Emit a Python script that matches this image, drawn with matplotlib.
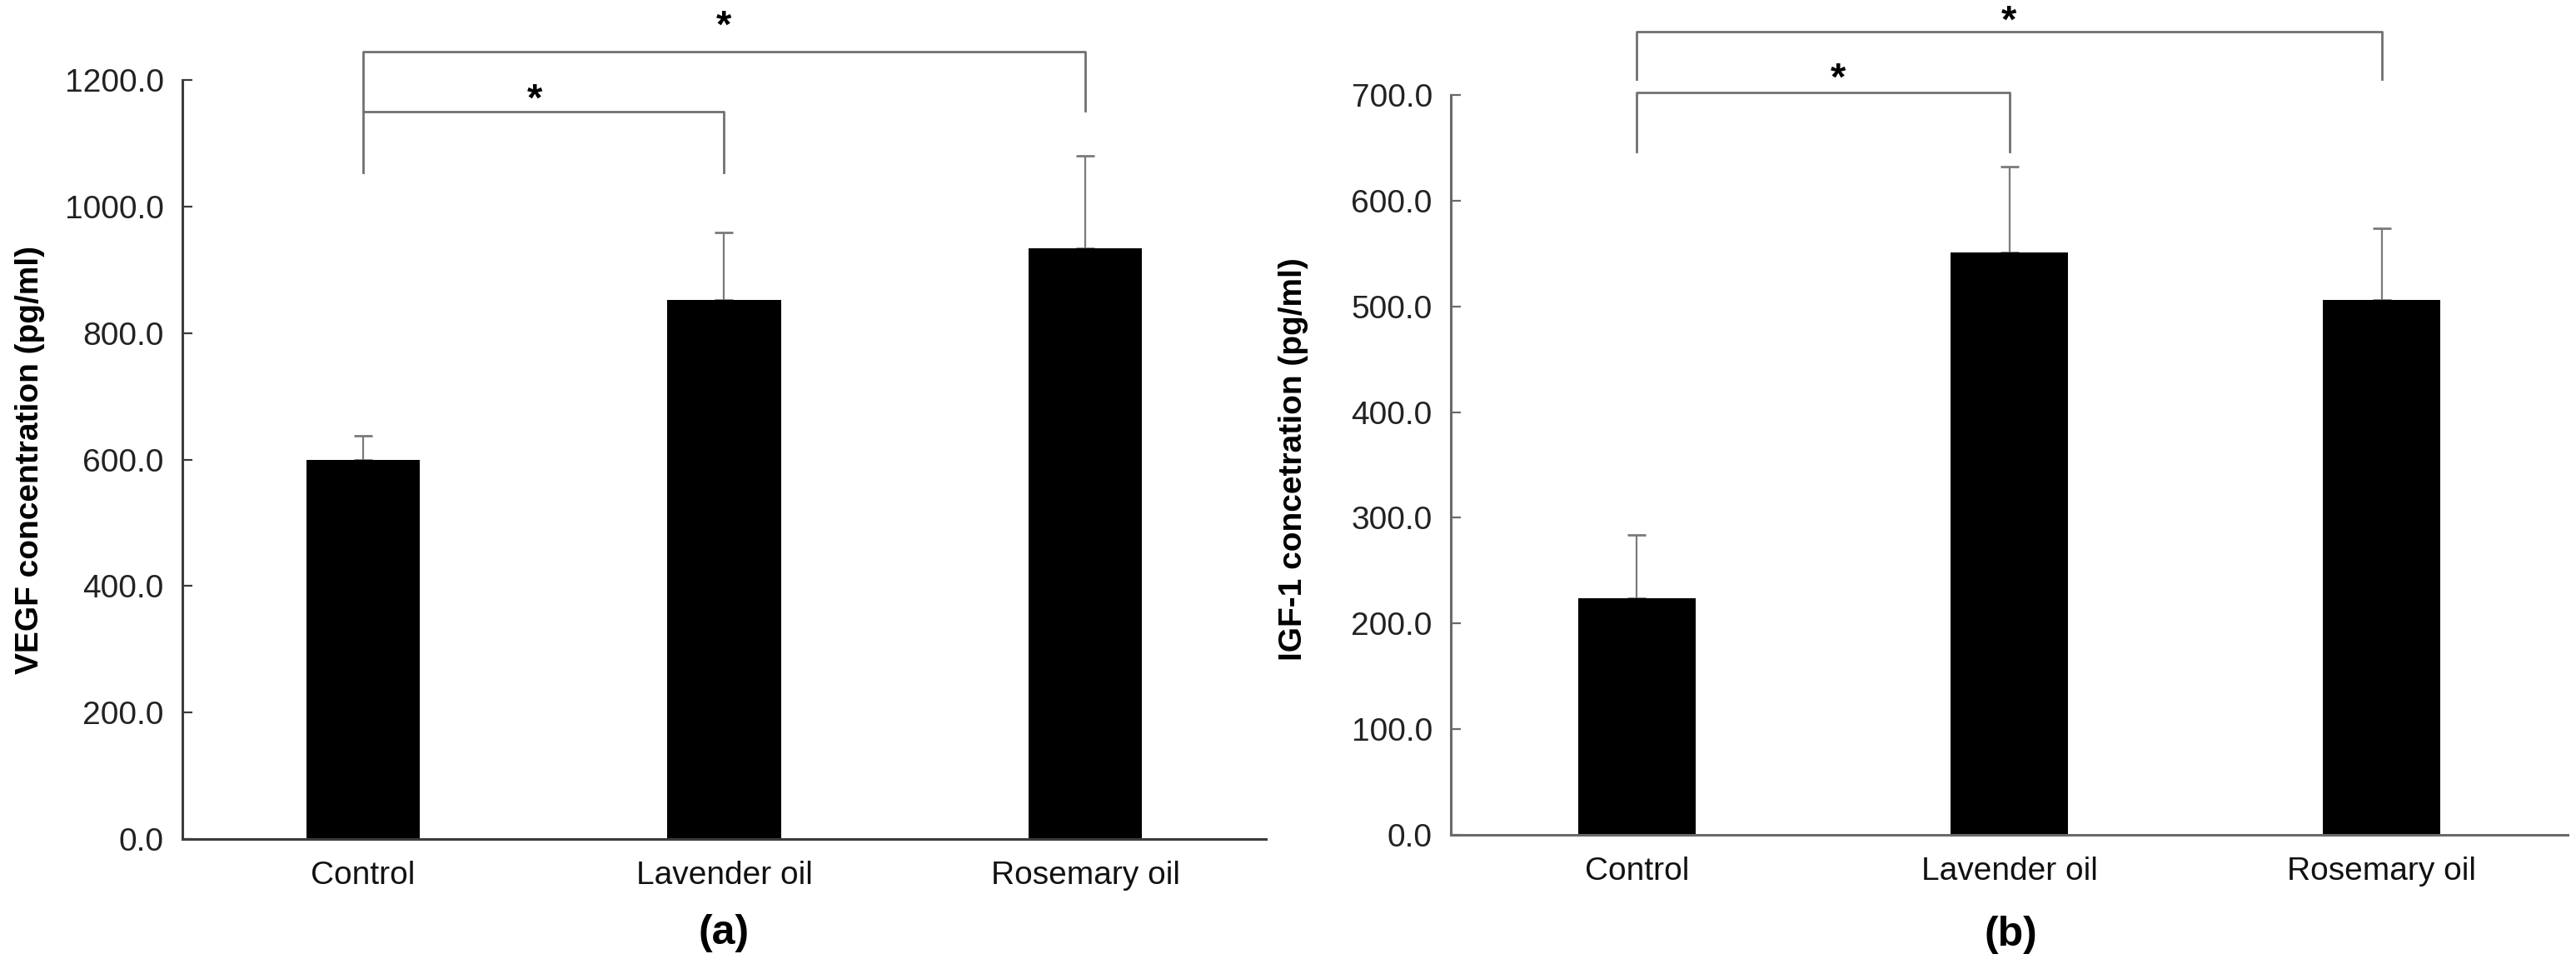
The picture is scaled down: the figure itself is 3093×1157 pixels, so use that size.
import matplotlib.pyplot as plt
import numpy as np

plt.rcParams['font.family'] = ['Liberation Sans', 'DejaVu Sans']

groups = ["Control", "Lavender oil", "Rosemary oil"]

vegf_mean = [599, 852, 934]
vegf_err = [38, 107, 146]

igf_mean = [224, 551, 506]
igf_err = [60, 81, 68]

x = np.arange(len(groups))

fig = plt.figure(figsize=(30.93, 11.57), dpi=100)
ax1 = fig.add_axes([0.0708, 0.1296, 0.4206, 0.7874])
ax2 = fig.add_axes([0.5632, 0.1340, 0.4336, 0.7675])


def style_axis(ax, means, errs, ymax, step, spine_color):
    ax.bar(x, means, width=0.315, color="black", zorder=2)
    ax.errorbar(x, means, yerr=[[0] * len(x), errs], fmt="none",
                ecolor="#7a7a7a", elinewidth=1.6, capsize=8, capthick=2,
                zorder=1)
    ax.set_xlim(-0.5, 2.5)
    ax.set_ylim(0, ymax)
    ax.set_yticks(np.arange(0, ymax + 1, step))
    ax.set_yticklabels([f"{v:.1f}" for v in np.arange(0, ymax + 1, step)])
    ax.set_xticks(x)
    ax.set_xticklabels(groups)
    for s in ["top", "right"]:
        ax.spines[s].set_visible(False)
    for s in ["left", "bottom"]:
        ax.spines[s].set_color(spine_color)
        ax.spines[s].set_linewidth(2.2)
    ax.tick_params(axis="y", direction="in", length=8.6, width=1.6,
                   color=spine_color, labelsize=28, pad=16,
                   labelcolor="#222222")
    ax.tick_params(axis="x", length=0, labelsize=28, pad=19,
                   labelcolor="#111111")


style_axis(ax1, vegf_mean, vegf_err, 1200, 200, "#3c3c3c")
style_axis(ax2, igf_mean, igf_err, 700, 100, "#6a6a6a")

ax1.set_ylabel("VEGF concentration (pg/ml)", fontsize=28, fontweight="bold")
ax1.yaxis.label.set_va("center")
ax1.yaxis.set_label_coords(-0.1407, 0.5)
ax2.set_ylabel("IGF-1 concetration (pg/ml)", fontsize=28, fontweight="bold")
ax2.yaxis.label.set_va("center")
ax2.yaxis.set_label_coords(-0.141, 0.508)

# significance brackets
bcol = "#707070"
ax1.plot([0, 0, 1, 1], [1054, 1150, 1150, 1054], color=bcol, lw=2, clip_on=False)
ax1.plot([0, 0, 2, 2], [1150, 1245, 1245, 1151], color=bcol, lw=2, clip_on=False)
ax1.text(0.475, 1167, "*", ha="center", va="center", fontsize=34,
         fontweight="bold", clip_on=False)
ax1.text(1.0, 1283, "*", ha="center", va="center", fontsize=34,
         fontweight="bold", clip_on=False)

ax2.plot([0, 0, 1, 1], [646, 702, 702, 646], color=bcol, lw=2, clip_on=False)
ax2.plot([0, 0, 2, 2], [715, 760, 760, 715], color=bcol, lw=2, clip_on=False)
ax2.text(0.54, 714, "*", ha="center", va="center", fontsize=34,
         fontweight="bold", clip_on=False)
ax2.text(1.0, 769, "*", ha="center", va="center", fontsize=34,
         fontweight="bold", clip_on=False)

fig.text(869 / 3093, 1 - 1120 / 1157, "(a)", ha="center", va="center",
         fontsize=36, fontweight="bold")
fig.text(2414 / 3093, 1 - 1122 / 1157, "(b)", ha="center", va="center",
         fontsize=36, fontweight="bold")

fig.savefig("out.png", dpi=100)
